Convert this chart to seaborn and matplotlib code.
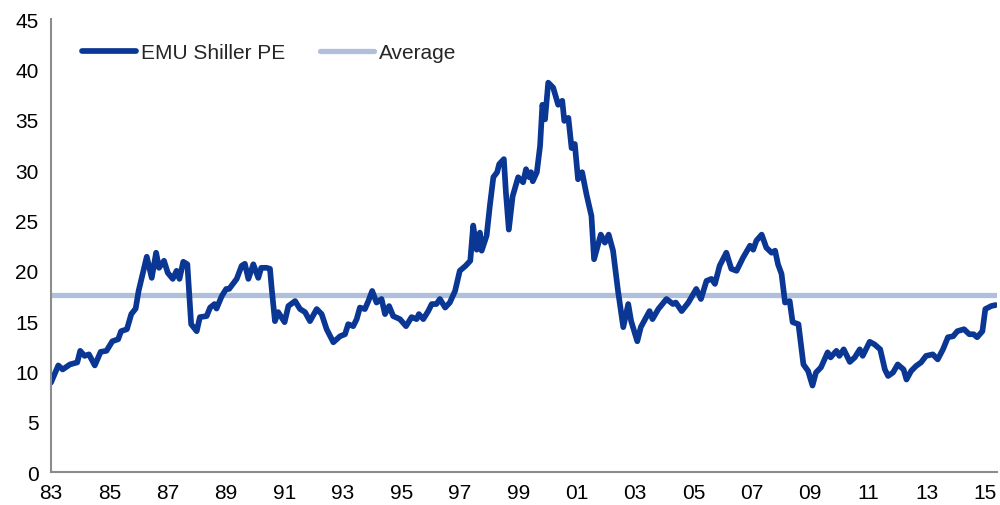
import matplotlib
matplotlib.use("Agg")
import matplotlib.pyplot as plt
import seaborn as sns
import pandas as pd
from matplotlib.lines import Line2D

# EMU Shiller PE (decimal year, value)
years = [
    1983.0, 1983.25, 1983.4, 1983.65, 1983.9, 1984.0, 1984.15, 1984.3, 1984.5, 1984.7,
    1984.9, 1985.1, 1985.3, 1985.4, 1985.6, 1985.75, 1985.9, 1986.0, 1986.1, 1986.28,
    1986.45, 1986.6, 1986.7, 1986.87, 1987.0, 1987.17, 1987.3, 1987.4, 1987.53, 1987.67,
    1987.74, 1987.8, 1987.99, 1988.1, 1988.33, 1988.45, 1988.6, 1988.67, 1988.85, 1989.0,
    1989.1, 1989.36, 1989.53, 1989.64, 1989.76, 1989.93, 1990.1, 1990.2, 1990.39, 1990.5,
    1990.56, 1990.67, 1990.78, 1991.0, 1991.13, 1991.36, 1991.53, 1991.7, 1991.87, 1992.1,
    1992.27, 1992.44, 1992.67, 1992.9, 1993.07, 1993.18, 1993.35, 1993.47, 1993.58, 1993.75,
    1993.87, 1994.0, 1994.15, 1994.32, 1994.44, 1994.58, 1994.72, 1994.95, 1995.16, 1995.35,
    1995.52, 1995.6, 1995.75, 1995.92, 1996.04, 1996.2, 1996.32, 1996.5, 1996.66, 1996.84,
    1997.0, 1997.2, 1997.36, 1997.46, 1997.58, 1997.69, 1997.75, 1997.92, 1998.03, 1998.15,
    1998.28, 1998.35, 1998.51, 1998.58, 1998.68, 1998.81, 1999.0, 1999.17, 1999.27, 1999.38,
    1999.44, 1999.5, 1999.64, 1999.75, 1999.83, 1999.92, 2000.03, 2000.2, 2000.37, 2000.51,
    2000.58, 2000.72, 2000.83, 2000.94, 2001.05, 2001.19, 2001.34, 2001.51, 2001.6, 2001.83,
    2001.97, 2002.1, 2002.25, 2002.42, 2002.6, 2002.77, 2002.87, 2003.08, 2003.2, 2003.5,
    2003.6, 2003.8, 2004.08, 2004.3, 2004.4, 2004.6, 2004.83, 2005.1, 2005.26, 2005.45,
    2005.62, 2005.74, 2005.9, 2006.13, 2006.3, 2006.48, 2006.7, 2006.94, 2007.05, 2007.16,
    2007.34, 2007.5, 2007.68, 2007.8, 2007.9, 2008.02, 2008.14, 2008.3, 2008.4, 2008.6,
    2008.77, 2008.93, 2009.08, 2009.2, 2009.37, 2009.6, 2009.7, 2009.9, 2010.0, 2010.15,
    2010.36, 2010.53, 2010.7, 2010.8, 2011.04, 2011.2, 2011.4, 2011.56, 2011.67, 2011.84,
    2012.0, 2012.2, 2012.3, 2012.46, 2012.63, 2012.8, 2012.97, 2013.2, 2013.37, 2013.55,
    2013.72, 2013.9, 2014.04, 2014.27, 2014.45, 2014.6, 2014.72, 2014.9, 2015.0, 2015.2,
    2015.35,
]
shiller_pe = [
    8.9, 10.6, 10.2, 10.7, 10.9, 12.05, 11.55, 11.7, 10.6, 11.95,
    12.05, 13.0, 13.2, 14.0, 14.2, 15.7, 16.25, 18.0, 19.2, 21.4,
    19.3, 21.8, 20.3, 21.0, 19.8, 19.2, 20.0, 19.2, 20.9, 20.65,
    17.5, 14.7, 14.0, 15.4, 15.5, 16.35, 16.7, 16.25, 17.5, 18.2,
    18.2, 19.2, 20.5, 20.7, 19.2, 20.65, 19.3, 20.3, 20.3, 20.2,
    18.2, 15.0, 15.9, 14.9, 16.5, 17.0, 16.2, 15.9, 15.0, 16.2,
    15.7, 14.2, 12.9, 13.5, 13.7, 14.7, 14.5, 15.2, 16.35, 16.2,
    17.0, 18.0, 16.85, 17.2, 15.7, 16.5, 15.5, 15.2, 14.5, 15.4,
    15.2, 15.7, 15.2, 16.0, 16.7, 16.7, 17.2, 16.35, 16.85, 18.0,
    20.0, 20.5, 21.0, 24.5, 22.1, 23.8, 22.0, 23.5, 26.45, 29.3,
    29.8, 30.6, 31.1, 27.8, 24.1, 27.4, 29.3, 28.8, 30.1, 29.3,
    29.8, 28.9, 29.8, 32.4, 36.5, 35.05, 38.7, 38.2, 36.5, 36.9,
    34.9, 35.2, 32.2, 32.6, 29.1, 29.8, 27.6, 25.45, 21.15, 23.6,
    22.8, 23.6, 22.0, 18.0, 14.4, 16.7, 15.0, 13.0, 14.4, 16.0,
    15.2, 16.2, 17.2, 16.7, 16.85, 16.0, 16.85, 18.2, 17.2, 19.0,
    19.2, 18.7, 20.5, 21.8, 20.2, 20.0, 21.3, 22.5, 22.1, 23.0,
    23.6, 22.3, 21.8, 22.0, 20.65, 19.7, 16.85, 17.0, 14.9, 14.7,
    10.7, 10.05, 8.6, 9.9, 10.4, 11.9, 11.4, 12.05, 11.55, 12.2,
    10.95, 11.4, 12.2, 11.55, 12.95, 12.7, 12.2, 10.2, 9.55, 9.9,
    10.7, 10.2, 9.2, 10.05, 10.55, 10.9, 11.55, 11.7, 11.2, 12.2,
    13.4, 13.5, 14.0, 14.2, 13.7, 13.7, 13.4, 14.0, 16.2, 16.5,
    16.6,
]
average_pe = 17.6

tick_years = list(range(1983, 2016, 2))
tick_labels = [f"{y % 100:02d}" for y in tick_years]
y_ticks = list(range(0, 46, 5))

df = pd.DataFrame({"year": years, "pe": shiller_pe})

sns.set_style("white")
plt.rcParams["font.family"] = ["Liberation Sans", "DejaVu Sans"]

fig = plt.figure(figsize=(10, 5.06), dpi=100)
ax = fig.add_axes([0.051, 0.065, 0.946, 0.895])

main_color = "#0A3694"
avg_color = "#B0C0DC"

# average line first so the series sits on top
ax.axhline(average_pe, color=avg_color, lw=3.8, solid_capstyle="butt", zorder=1)
sns.lineplot(data=df, x="year", y="pe", ax=ax, color=main_color, lw=4.1,
             zorder=2, solid_joinstyle="round")

ax.set_xlim(1983, 2015.4)
ax.set_ylim(0, 45)
ax.set_xticks(tick_years)
ax.set_xticklabels(tick_labels)
ax.set_yticks(y_ticks)
ax.set_xlabel("")
ax.set_ylabel("")

for side in ["top", "right"]:
    ax.spines[side].set_visible(False)
for side in ["left", "bottom"]:
    ax.spines[side].set_color("#8c8c8c")
    ax.spines[side].set_linewidth(1.5)
ax.tick_params(axis="both", which="both", direction="out", length=5, width=1,
               color="#8c8c8c", labelsize=15, labelcolor="black", pad=3)
ax.tick_params(axis="y", pad=4)

handles = [
    Line2D([], [], color=main_color, lw=4.1, solid_capstyle="round"),
    Line2D([], [], color=avg_color, lw=3.8, solid_capstyle="round"),
]
ax.legend(handles, ["EMU Shiller PE", "Average"], loc="center left",
          bbox_to_anchor=(0.033, 0.927), ncol=2, frameon=False, fontsize=15,
          handlelength=2.6, handletextpad=0.2, columnspacing=1.7, borderpad=0,
          borderaxespad=0)

fig.savefig("out.png", dpi=100)
